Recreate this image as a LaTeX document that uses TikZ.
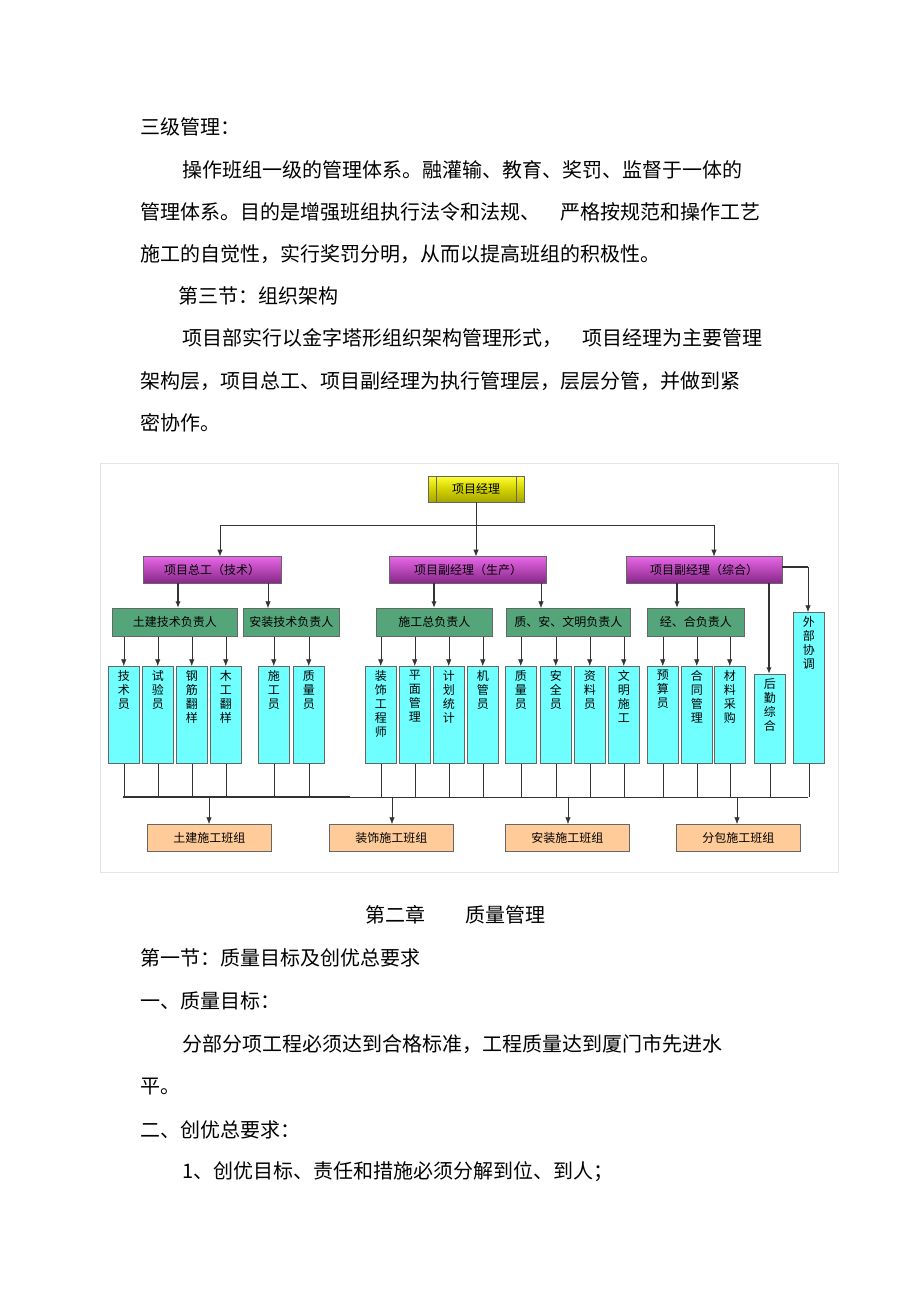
\documentclass[tikz,border=0pt]{standalone}
\usepackage{fontspec}
\setmainfont{Noto Sans CJK SC}
\usepackage{xcolor}
\definecolor{mgr}{HTML}{E0E040}
\definecolor{vice}{HTML}{E040E0}
\definecolor{lead}{HTML}{55A57A}
\definecolor{staff}{HTML}{70FFFF}
\definecolor{crew}{HTML}{FFCC99}
\usetikzlibrary{arrows.meta}
\tikzset{
  txt/.style={anchor=west,inner sep=0pt,font=\fontsize{15}{16}\selectfont},
  box/.style={draw=black!60,inner sep=0pt,font=\fontsize{9}{10}\selectfont},
  vbox/.style={box,fill=staff,anchor=north west,align=center,font=\fontsize{9}{10.5}\selectfont},
  arr/.style={-{Latex[length=5pt,width=4pt]},black!80},
  tarr/.style={arr,line width=1.2pt}
}
\begin{document}
\begin{tikzpicture}[x=0.75pt,y=-0.75pt]
\useasboundingbox (0,0) rectangle (920,1303);
% text above
\node[txt] (t1) at (140,127) {三级管理：};
\node[txt] (t2) at (182,170) {操作班组一级的管理体系。融灌输、教育、奖罚、监督于一体的};
\node[txt] (t3) at (140,212) {管理体系。目的是增强班组执行法令和法规、\quad 严格按规范和操作工艺};
\node[txt] (t4) at (140,254) {施工的自觉性，实行奖罚分明，从而以提高班组的积极性。};
\node[txt] (t5) at (178,296) {第三节：组织架构};
\node[txt] (t6) at (182,338) {项目部实行以金字塔形组织架构管理形式，\quad 项目经理为主要管理};
\node[txt] (t7) at (140,381) {架构层，项目总工、项目副经理为执行管理层，层层分管，并做到紧};
\node[txt] (t8) at (140,423) {密协作。};
\draw[black!10] (100,463) rectangle (838,872);

% top
\node[box,top color=yellow!80,bottom color=olive!70!yellow,minimum width=72pt,minimum height=19.5pt] (pm) at (476,489) {项目经理};
\draw[black!60] ([xshift=-30pt]pm.north) -- ([xshift=-30pt]pm.south) ([xshift=30pt]pm.north) -- ([xshift=30pt]pm.south);
\node[box,top color=vice!80,bottom color=vice!60!black,minimum width=103.5pt,minimum height=20pt] (v1) at (212,570) {项目总工（技术）};
\node[box,top color=vice!80,bottom color=vice!60!black,minimum width=118pt,minimum height=20pt] (v2) at (468,570) {项目副经理（生产）};
\node[box,top color=vice!80,bottom color=vice!60!black,minimum width=117pt,minimum height=20pt] (v3) at (704,570) {项目副经理（综合）};
\coordinate (h1) at (220,525); \coordinate (h2) at (476,525); \coordinate (h3) at (714,525);
\draw[black!80] (pm.south) -- (h2) (h1) -- (h3);
\draw[arr] (h1) -- (h1|-v1.north);
\draw[arr] (h2) -- (h2|-v2.north);
\draw[arr] (h3) -- (h3|-v3.north);

% leads
\foreach \n/\a/\b/\t in {l1/112/237/土建技术负责人,l2/243/339/安装技术负责人,l3/376/492/施工总负责人,l4/506/630/质、安、文明负责人,l5/647/744/经、合负责人}
  \node[box,fill=lead,minimum width={(\b-\a)*0.75},minimum height=21pt,anchor=north west] (\n) at (\a,608) {\t};
\draw[tarr] (178,583) -- (178,608);
\draw[arr] (268,583) -- (268,608);
\draw[tarr] (434,583) -- (434,608);
\draw[arr] (541,583) -- (541,608);
\draw[tarr] (677,583) -- (677,608);

% staff
\foreach \n/\a/\t/\p in {
  s1/108/技\\术\\员/l1, s2/142/试\\验\\员/l1, s3/176/钢\\筋\\翻\\样/l1, s4/210/木\\工\\翻\\样/l1,
  s5/258/施\\工\\员/l2, s6/293/质\\量\\员/l2,
  s7/365/装\\饰\\工\\程\\师/l3, s8/399/平\\面\\管\\理/l3, s9/433/计\\划\\统\\计/l3, s10/467/机\\管\\员/l3,
  s11/505/质\\量\\员/l4, s12/540/安\\全\\员/l4, s13/574/资\\料\\员/l4, s14/608/文\\明\\施\\工/l4,
  s15/647/预\\算\\员/l5, s16/681/合\\同\\管\\理/l5, s17/714/材\\料\\采\\购/l5}{
  \node[vbox,minimum width=23.25pt,minimum height=72.75pt] (\n) at (\a,666) {};
  \node[anchor=north,align=center,inner sep=0pt,font=\fontsize{9}{10.5}\selectfont] at ([yshift=-3]\n.north) {\t};
  \draw[arr] (\n.north|-\p.south) -- (\n.north);
  \draw[black!80] (\n.south) -- (\n.south|-0,797);
}
\node[vbox,minimum width=23.25pt,minimum height=66.75pt] (s18) at (754,674) {};
\node[anchor=north,align=center,inner sep=0pt,font=\fontsize{9}{10.5}\selectfont] at ([yshift=-3]s18.north) {后\\勤\\综\\合};
\node[vbox,minimum width=23.25pt,minimum height=113.25pt] (s19) at (793,612) {};
\node[anchor=north,align=center,inner sep=0pt,font=\fontsize{9}{10.5}\selectfont] at ([yshift=-3]s19.north) {外\\部\\协\\调};
\coordinate (k1) at (769,583); \coordinate (k2) at (808,567);
\draw[tarr] (k1) -- (k1|-s18.north);
\draw[line width=1.2pt,black!80] (v3.east|-k2) -- (k2);
\draw[arr] (k2) -- (k2|-s19.north);
\draw[black!80] (s18.south) -- (s18.south|-0,797) (s19.south) -- (s19.south|-0,797);
\draw[line width=1.2pt,black!80] (123,797) -- (350,797);
\draw[black!80] (350,797) -- (808,797);

% crews
\foreach \n/\a/\t/\x in {c1/147/土建施工班组/209,c2/329/装饰施工班组/392,c3/505/安装施工班组/568,c4/676/分包施工班组/737}{
  \node[box,fill=crew,minimum width=93pt,minimum height=20pt,anchor=north west] (\n) at (\a,824) {\t};
  \draw[arr] (\x,797) -- (\x,824);
}

% text below
\node[txt,anchor=center] (t9) at (455,915) {第二章\qquad 质量管理};
\node[txt] (t10) at (140,958) {第一节：质量目标及创优总要求};
\node[txt] (t11) at (140,1001) {一、质量目标：};
\node[txt] (t12) at (182,1044) {分部分项工程必须达到合格标准，工程质量达到厦门市先进水};
\node[txt] (t13) at (140,1087) {平。};
\node[txt] (t14) at (140,1130) {二、创优总要求：};
\node[txt] (t15) at (182,1172) {1、创优目标、责任和措施必须分解到位、到人；};
\end{tikzpicture}
\end{document}
